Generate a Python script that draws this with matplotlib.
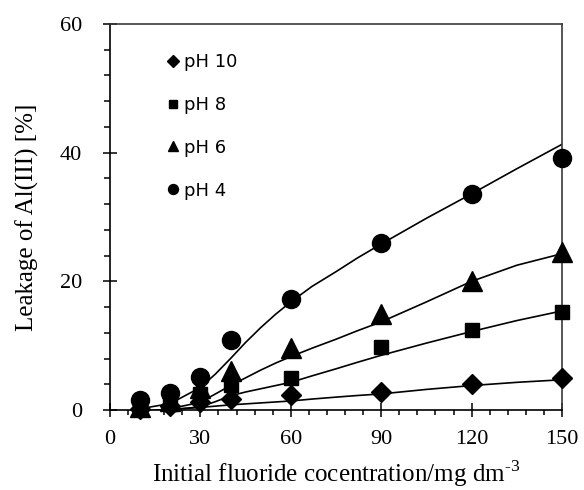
import matplotlib
matplotlib.use("Agg")
import matplotlib.pyplot as plt
from matplotlib.ticker import MultipleLocator

# ---- data ----
conc = [10, 20, 30, 40, 60, 90, 120, 150]
ph10 = [0.2, 0.6, 1.3, 1.7, 2.3, 2.8, 4.0, 5.0]
ph8 = [0.3, 1.0, 2.5, 3.9, 4.9, 9.8, 12.5, 15.3]
ph6 = [0.5, 1.4, 3.4, 6.0, 9.6, 14.9, 20.0, 24.5]
ph4 = [1.6, 2.7, 5.2, 10.9, 17.2, 26.0, 33.6, 39.2]

fit_x = [10, 20, 30, 35, 40, 45, 50, 55, 60, 67, 75, 82, 90, 105, 120, 135, 150]
fit10 = [-0.2, 0.1, 0.4, 0.6, 0.8, 0.95, 1.1, 1.25, 1.4, 1.7, 2.0, 2.25, 2.5, 3.2, 3.8, 4.3, 4.7]
fit8 = [-0.3, 0.0, 0.5, 1.3, 2.2, 2.8, 3.3, 3.8, 4.3, 5.3, 6.4, 7.4, 8.5, 10.4, 12.2, 13.9, 15.4]
fit6 = [-0.3, 0.2, 1.2, 2.5, 3.8, 5.0, 6.2, 7.3, 8.3, 9.6, 11.0, 12.3, 13.7, 16.8, 20.0, 22.5, 24.3]
fit4 = [0.2, 1.0, 3.5, 5.6, 8.0, 10.5, 12.8, 14.9, 16.8, 19.2, 21.5, 23.6, 25.8, 29.8, 33.6, 37.5, 41.3]

labels = ["pH 10", "pH 8", "pH 6", "pH 4"]
xticks = [0, 30, 60, 90, 120, 150]
yticks = [0, 20, 40, 60]

plt.rcParams["mathtext.fontset"] = "custom"
plt.rcParams["mathtext.rm"] = "Liberation Serif"

fig = plt.figure(figsize=(5.84, 4.90), dpi=100)
ax = fig.add_axes([110 / 584, 80 / 490, 452 / 584, 386 / 490])

lw = 1.2
for fy in (fit10, fit8, fit6, fit4):
    ax.plot(fit_x, fy, color="black", lw=lw, zorder=2)

series = [(ph10, "D", 10.2), (ph8, "s", 9.4), (ph6, "^", 14), (ph4, "o", 13)]
handles = []
for (vals, mk, ms), lab in zip(series, labels):
    h, = ax.plot(conc, vals, linestyle="none", marker=mk, markersize=ms,
                 color="black", label=lab, clip_on=False, zorder=3)
    handles.append(h)

ax.set_xlim(0, 150)
ax.set_ylim(0, 60)
ax.set_xticks(xticks)
ax.set_yticks(yticks)
ax.xaxis.set_minor_locator(MultipleLocator(6))
ax.yaxis.set_minor_locator(MultipleLocator(4))

ax.tick_params(axis="x", which="major", direction="inout", length=10.5, width=1.1, pad=9)
ax.tick_params(axis="x", which="minor", direction="out", length=3.6, width=1.1)
ax.tick_params(axis="y", which="major", direction="inout", length=10, width=1.1, pad=15)
ax.tick_params(axis="y", which="minor", direction="out", length=4.3, width=1.1)
ax.tick_params(which="both", top=False, right=False)

for lab in ax.get_xticklabels() + ax.get_yticklabels():
    lab.set_fontfamily("Liberation Serif")
    lab.set_fontsize(16)

for side in ("left", "bottom"):
    ax.spines[side].set_linewidth(1.2)
    ax.spines[side].set_color("black")
for side in ("top", "right"):
    ax.spines[side].set_linewidth(1.2)
    ax.spines[side].set_color("#3a3a3a")

ax.set_xlabel(r"Initial fluoride cocentration/mg dm$^{\text{-3}}$",
              fontfamily="Liberation Serif", fontsize=18, labelpad=7)
ax.set_ylabel("Leakage of Al(III) [%]", fontfamily="Liberation Serif",
              fontsize=18, labelpad=15)

leg = ax.legend(handles=handles, loc="upper left", bbox_to_anchor=(0.124, 0.925),
                frameon=False, markerscale=0.55, handlelength=0.8,
                handletextpad=0.2, labelspacing=1.38, borderpad=0,
                borderaxespad=0, prop={"family": "DejaVu Sans", "size": 13})

fig.savefig("out.png", dpi=100)
